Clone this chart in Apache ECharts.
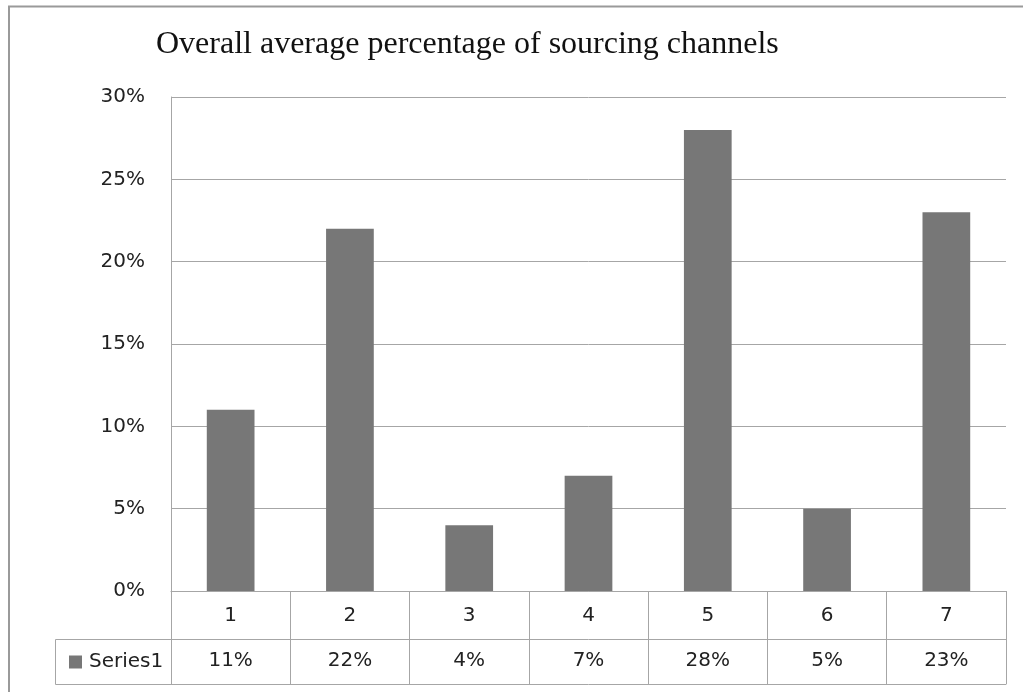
<!DOCTYPE html>
<html>
<head>
<meta charset="utf-8">
<script src="https://cdn.jsdelivr.net/npm/echarts@6/dist/echarts.min.js"></script>
<style>
html,body{margin:0;padding:0;background:#fff;}
#chart{width:1023px;height:692px;}
</style>
</head>
<body>
<div id="chart"></div>
<script>
var titleText = 'Overall average percentage of sourcing channels';
var categories = ['1', '2', '3', '4', '5', '6', '7'];
var seriesName = 'Series1';
var values = [0.11, 0.22, 0.04, 0.07, 0.28, 0.05, 0.23];

var lineColor = '#a6a6a6';
var barColor = '#777777';
var textColor = '#222222';
var labelFont = 'DejaVu Sans';

var chart = echarts.init(document.getElementById('chart'), null, {renderer: 'canvas'});

function pct(v) { return Math.round(v * 100) + '%'; }

var option = {
  animation: false,
  backgroundColor: '#ffffff',
  title: {
    text: titleText,
    left: 151,
    top: 24,
    textStyle: {fontFamily: 'Liberation Serif', fontWeight: 'normal', fontSize: 32, color: '#111'}
  },
  legend: {
    data: [seriesName],
    left: 64,
    top: 647,
    icon: 'rect',
    itemWidth: 13,
    itemHeight: 13,
    itemGap: 0,
    textStyle: {fontFamily: labelFont, fontSize: 20, color: textColor, padding: [0, 0, 0, 2]},
    selectedMode: false
  },
  grid: {left: 171, right: 17, top: 97, bottom: 101, containLabel: false},
  xAxis: [
    {
      type: 'category',
      data: categories,
      position: 'bottom',
      axisLine: {show: true, lineStyle: {color: lineColor, width: 1}},
      axisTick: {show: true, length: 93, interval: 0, lineStyle: {color: lineColor, width: 1}},
      axisLabel: {fontFamily: labelFont, fontSize: 20, color: textColor, margin: 15, interval: 0}
    },
    {
      type: 'category',
      data: categories,
      position: 'bottom',
      offset: 48,
      axisLine: {show: true, lineStyle: {color: lineColor, width: 1}},
      axisTick: {show: false},
      axisLabel: {
        fontFamily: labelFont, fontSize: 20, color: textColor, margin: 12, interval: 0,
        formatter: function (v, i) { return pct(values[i]); }
      }
    },
    {
      type: 'category',
      data: categories,
      position: 'bottom',
      offset: 93,
      axisLine: {show: true, lineStyle: {color: lineColor, width: 1}},
      axisTick: {show: false},
      axisLabel: {show: false}
    }
  ],
  yAxis: {
    type: 'value',
    min: 0,
    max: 0.30,
    interval: 0.05,
    axisLine: {show: true, lineStyle: {color: lineColor, width: 1}},
    axisTick: {show: false},
    axisLabel: {
      fontFamily: labelFont, fontSize: 20, color: textColor, margin: 26,
      formatter: function (v) { return pct(v); }
    },
    splitLine: {show: true, lineStyle: {color: lineColor, width: 1}}
  },
  series: [{
    name: seriesName,
    type: 'bar',
    xAxisIndex: 0,
    data: values,
    barWidth: '40%',
    itemStyle: {color: barColor}
  }],
  graphic: [
    {type: 'polyline', shape: {points: [[9, 692], [9, 6.5], [1023, 6.5]]}, style: {stroke: '#9a9a9a', lineWidth: 2, fill: null}},
    {type: 'polyline', shape: {points: [[171, 639.5], [55.5, 639.5], [55.5, 684.5], [171, 684.5]]}, style: {stroke: lineColor, lineWidth: 1, fill: null}}
  ]
};
chart.setOption(option);
</script>
</body>
</html>
